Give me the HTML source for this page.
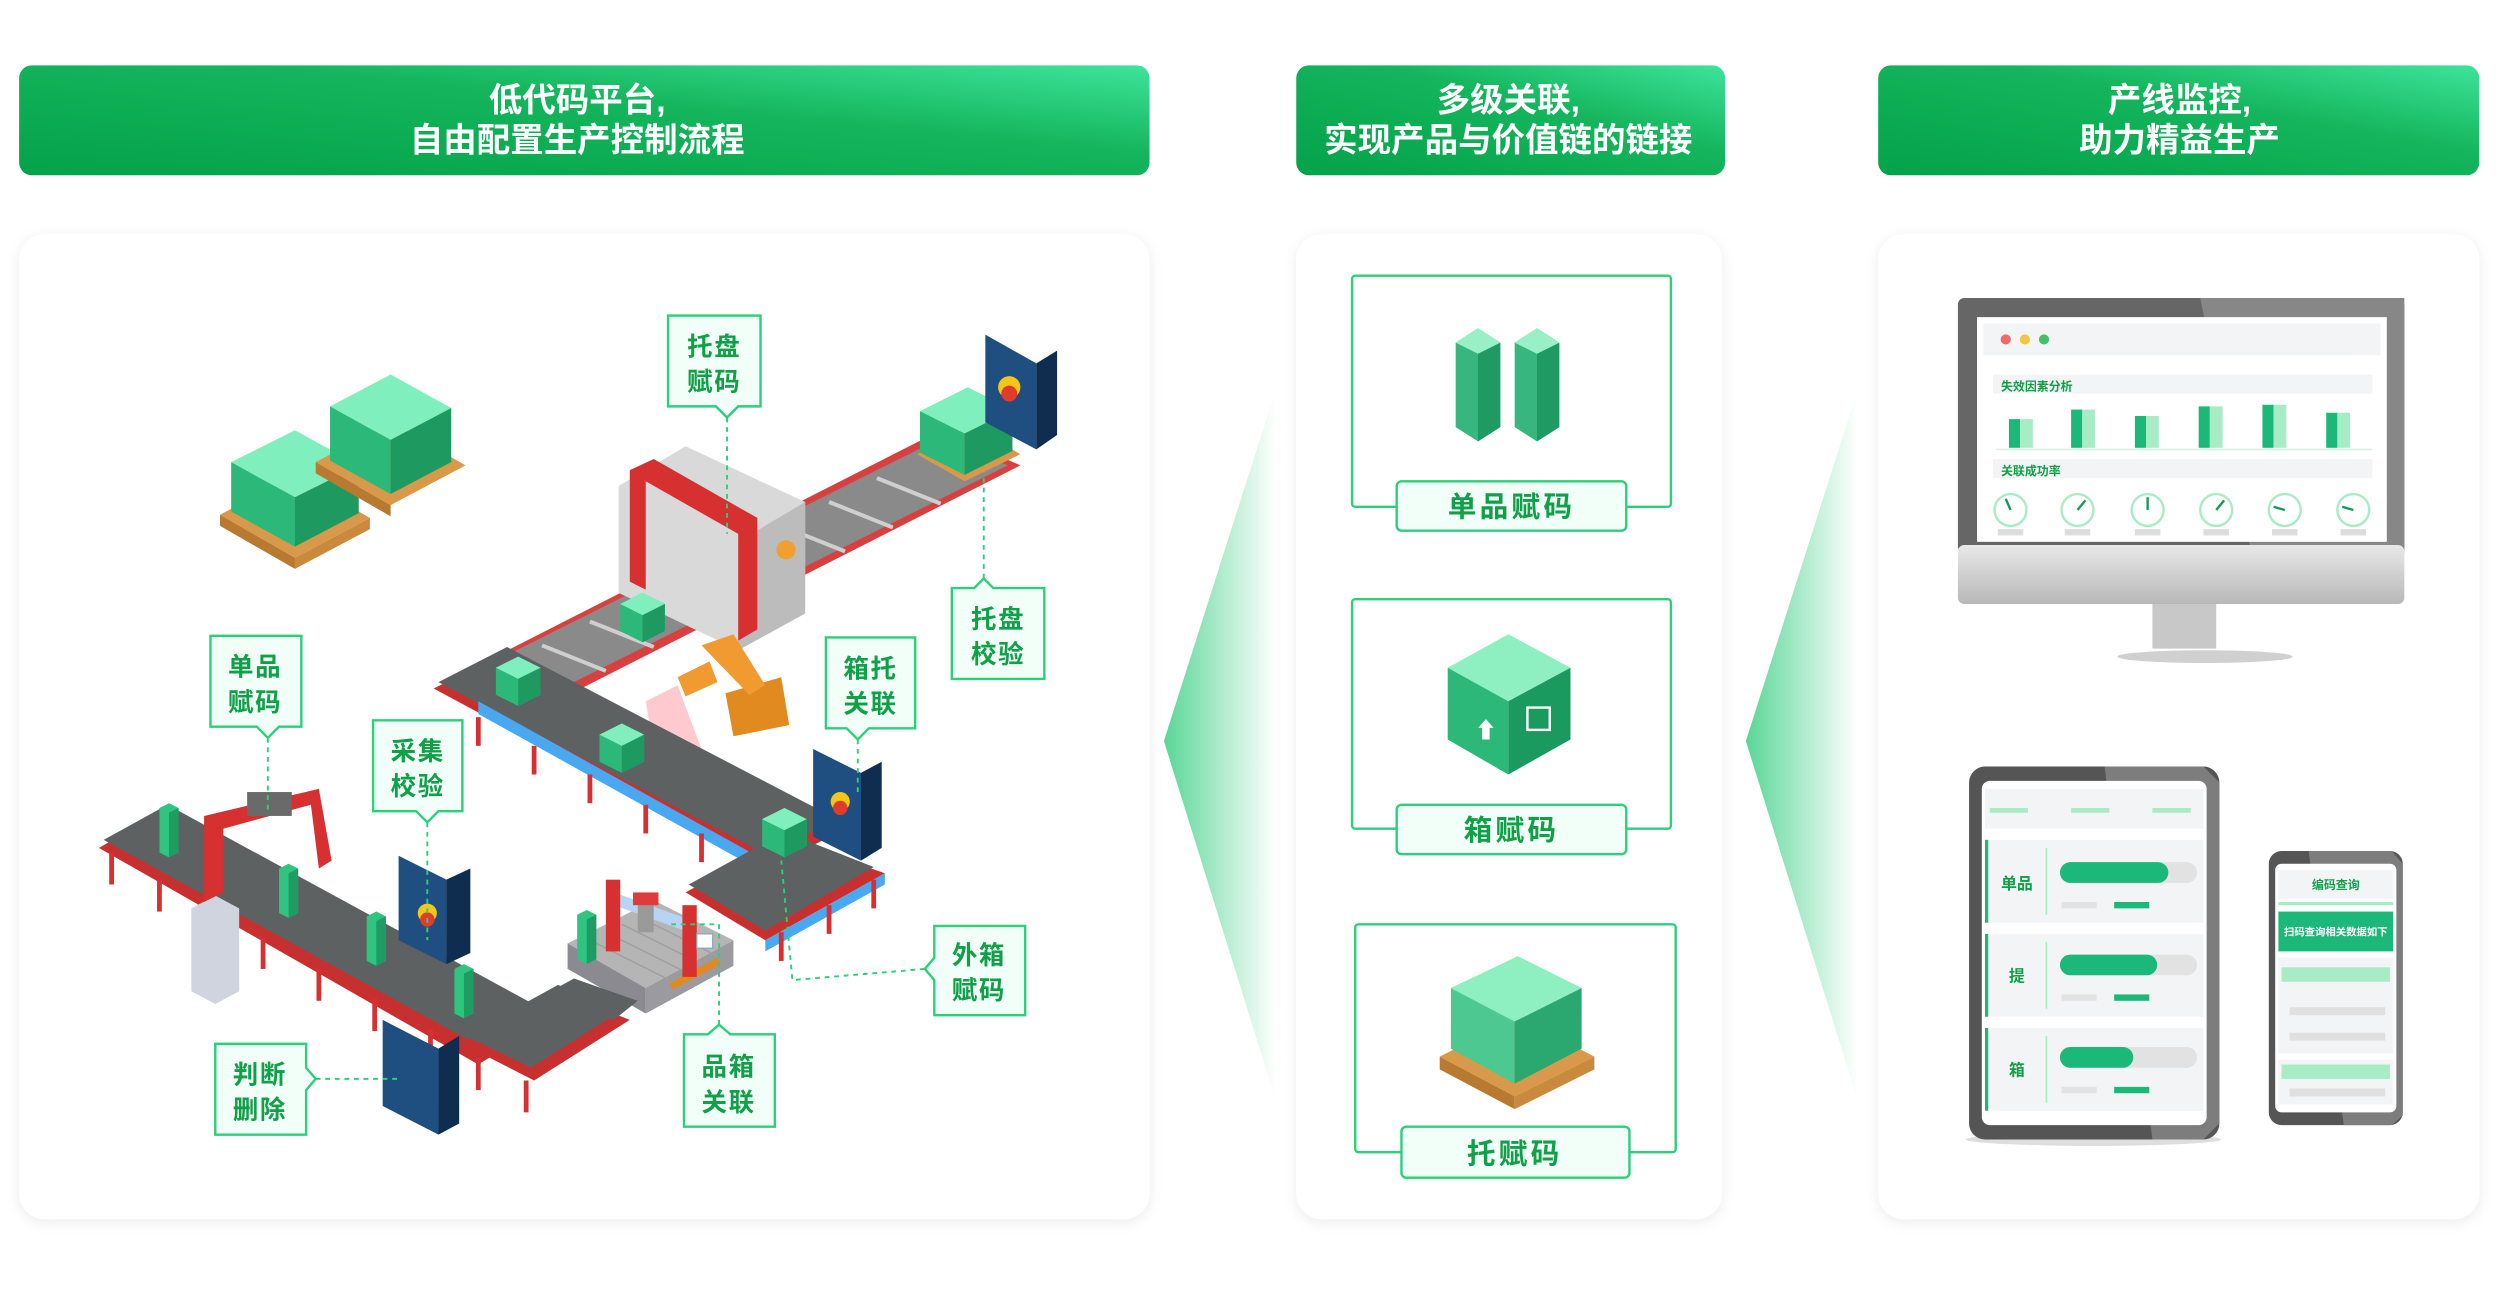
<!DOCTYPE html>
<html><head><meta charset="utf-8"><style>
html,body{margin:0;padding:0;background:#fff;}
svg{display:block;}
text{font-family:"Liberation Sans","Noto Sans CJK SC",sans-serif;font-weight:bold;}
</style></head><body>
<svg width="2500" height="1302" viewBox="0 0 1568 817" preserveAspectRatio="none" xmlns="http://www.w3.org/2000/svg">
<defs>
<linearGradient id="hg" x1="0" y1="1" x2="1" y2="0"><stop offset="0" stop-color="#04a24a"/><stop offset="0.6" stop-color="#14b55c"/><stop offset="1" stop-color="#3de49a"/></linearGradient>
<linearGradient id="fg" x1="0" y1="0" x2="1" y2="0"><stop offset="0" stop-color="#3ccf84" stop-opacity="0.85"/><stop offset="1" stop-color="#3ccf84" stop-opacity="0"/></linearGradient>
<linearGradient id="chin" x1="0" y1="0" x2="0" y2="1"><stop offset="0" stop-color="#e8e8e8"/><stop offset="1" stop-color="#b8b8b8"/></linearGradient>
<filter id="sh" x="-5%" y="-5%" width="110%" height="110%"><feDropShadow dx="0" dy="2" stdDeviation="4" flood-color="#000" flood-opacity="0.08"/></filter>
<g id="cube"><polygon points="0,-8 14,-1 14,16 0,23 -14,16 -14,-1" fill="#2bb878"/><polygon points="0,-8 14,-1 0,6 -14,-1" fill="#7ff0bd"/><polygon points="0,6 14,-1 14,16 0,23" fill="#1e9a60"/></g>
<g id="pill"><polygon points="0,0 6,-3 12,0 12,28 6,31 0,28" fill="#2fc47f"/><polygon points="6,3 12,0 12,28 6,31" fill="#1f9c62"/></g>
</defs>

<rect x="12" y="41" width="709" height="69" rx="8" fill="url(#hg)"/>
<rect x="813" y="41" width="269" height="69" rx="8" fill="url(#hg)"/>
<rect x="1178" y="41" width="377" height="69" rx="8" fill="url(#hg)"/>
<g fill="#fff" font-size="21" text-anchor="middle">
<text x="362" y="70">低代码平台,</text><text x="362" y="95">自由配置生产控制流程</text>
<text x="946" y="70">多级关联,</text><text x="946" y="95">实现产品与价值链的链接</text>
<text x="1367" y="70">产线监控,</text><text x="1367" y="95">助力精益生产</text>
</g>

<polygon points="800,245 730,465 800,690" fill="url(#fg)"/>
<polygon points="1165,245 1095,465 1165,690" fill="url(#fg)"/>

<rect x="12" y="147" width="709" height="618" rx="16" fill="#fff" filter="url(#sh)"/>
<rect x="813" y="147" width="267" height="618" rx="16" fill="#fff" filter="url(#sh)"/>
<rect x="1178" y="147" width="377" height="618" rx="16" fill="#fff" filter="url(#sh)"/>

<!-- pallets top-left -->
<g>
<polygon points="138,323 185,350 232,325 185,298" fill="#d89a4a"/><polygon points="138,323 185,350 185,357 138,330" fill="#b77a30"/><polygon points="185,350 232,325 232,332 185,357" fill="#c98a3e"/>
<polygon points="145,290 185,312 225,292 185,270" fill="#7ff0bd"/><polygon points="145,290 185,312 185,343 145,321" fill="#2bb878"/><polygon points="185,312 225,292 225,322 185,343" fill="#1e9a60"/>
<polygon points="198,290 245,317 292,292 245,265" fill="#d89a4a"/><polygon points="198,290 245,317 245,324 198,297" fill="#b77a30"/>
<polygon points="207,255 245,276 283,256 245,235" fill="#7ff0bd"/><polygon points="207,255 245,276 245,310 207,289" fill="#2bb878"/><polygon points="245,276 283,256 283,290 245,310" fill="#1e9a60"/>
</g>
<!-- rollers top -->
<polygon points="285,425 590,270 640,292 335,447" fill="#d84040"/>
<polygon points="290,425 590,275 632,292 332,442" fill="#8a8a8a"/>
<g stroke="#cfcfcf" stroke-width="2.5">
<line x1="310" y1="420" x2="350" y2="436"/><line x1="340" y1="405" x2="380" y2="421"/><line x1="370" y1="390" x2="410" y2="406"/><line x1="400" y1="375" x2="440" y2="391"/><line x1="430" y1="360" x2="470" y2="376"/><line x1="460" y1="345" x2="500" y2="361"/><line x1="490" y1="330" x2="530" y2="346"/><line x1="520" y1="315" x2="560" y2="331"/><line x1="550" y1="300" x2="590" y2="316"/>
</g>
<polygon points="388,305 430,280 505,315 505,385 463,408 388,372" fill="#d9d9d9"/>
<polygon points="463,340 505,315 505,385 463,408" fill="#bcbcbc"/>
<polygon points="395,295 410,288 475,325 475,395 463,402 463,335 405,302 405,370 395,365" fill="#d63030"/>
<circle cx="493" cy="345" r="6" fill="#f0a030"/>
<polygon points="575,285 605,302 640,285 610,268" fill="#d89a4a"/>
<polygon points="577,258 605,272 635,257 607,243" fill="#7ff0bd"/><polygon points="577,258 605,272 605,298 577,284" fill="#2bb878"/><polygon points="605,272 635,257 635,283 605,298" fill="#1e9a60"/>
<polygon points="618,210 650,228 650,282 618,265" fill="#1f4f80"/><polygon points="650,228 663,220 663,273 650,282" fill="#0f2d4f"/><circle cx="633" cy="243" r="7" fill="#f5c518"/><circle cx="633" cy="247" r="5" fill="#e03b2b"/>
<polygon points="455,435 490,425 495,455 460,462" fill="#e08a20"/><polygon points="440,405 460,398 480,430 470,436" fill="#f09a30"/><polygon points="425,425 445,415 450,428 430,437" fill="#f09a30"/>
<polygon points="405,440 425,430 440,470 410,470" fill="#ff5060" opacity="0.3"/>
<!-- belt E -->
<polygon points="272,432 320,408 530,520 482,545" fill="#c83030"/>
<polygon points="275,428 318,406 525,514 482,537" fill="#5d6161"/>
<polygon points="300,440 480,540 480,548 300,448" fill="#4aa8f0"/>
<!-- station -->
<polygon points="356,592 410,565 460,590 405,620" fill="#b5b5b5"/>
<polygon points="405,620 460,590 460,606 405,636" fill="#9a9aa0"/>
<polygon points="356,592 405,620 405,636 356,608" fill="#8a8a90"/>
<g stroke="#a0a0a0" stroke-width="1"><line x1="370" y1="590" x2="420" y2="615"/><line x1="380" y1="585" x2="430" y2="610"/><line x1="390" y1="580" x2="440" y2="605"/><line x1="400" y1="575" x2="450" y2="600"/></g>
<polygon points="420,617 450,601 452,605 422,621" fill="#e08a20"/>
<polygon points="385,560 435,578 435,586 385,568" fill="#b8d4f4"/>
<rect x="380" y="552" width="9" height="45" fill="#d63030"/><rect x="428" y="568" width="9" height="45" fill="#d63030"/>
<rect x="400" y="565" width="10" height="20" fill="#9a9a9a"/><rect x="397" y="560" width="16" height="8" fill="#e03b3b"/>
<rect x="437" y="586" width="10" height="9" fill="#fff" stroke="#8ab" stroke-width="0.8"/>
<!-- belt right D -->
<polygon points="430,560 492,526 555,548 480,590" fill="#c83030"/>
<polygon points="432,555 492,522 548,544 480,584" fill="#5d6161"/>
<polygon points="480,590 555,548 555,555 480,597" fill="#4aa8f0"/>
<polygon points="510,470 540,485 540,540 510,525" fill="#1f4f80"/><polygon points="540,485 553,478 553,532 540,540" fill="#0f2d4f"/><circle cx="527" cy="503" r="6" fill="#f5c518"/><circle cx="527" cy="507" r="4.5" fill="#e03b2b"/>
<!-- belt A -->
<polygon points="62,532 105,508 345,640 300,668" fill="#c83030"/>
<polygon points="65,527 105,505 340,633 300,656" fill="#5d6161"/>
<!-- belt B -->
<polygon points="290,655 350,622 395,640 335,678" fill="#c83030"/>
<polygon points="292,650 350,618 390,634 333,670" fill="#5d6161"/>
<polygon points="340,625 360,614 400,628 385,640" fill="#5d6161"/>
<g stroke="#d63030" stroke-width="3">
<line x1="70" y1="535" x2="70" y2="555"/><line x1="100" y1="552" x2="100" y2="572"/><line x1="130" y1="568" x2="130" y2="588"/><line x1="165" y1="588" x2="165" y2="608"/><line x1="200" y1="608" x2="200" y2="628"/><line x1="235" y1="627" x2="235" y2="647"/><line x1="270" y1="646" x2="270" y2="666"/><line x1="300" y1="664" x2="300" y2="684"/><line x1="330" y1="678" x2="330" y2="698"/>
<line x1="300" y1="450" x2="300" y2="468"/><line x1="335" y1="468" x2="335" y2="486"/><line x1="370" y1="486" x2="370" y2="504"/><line x1="405" y1="505" x2="405" y2="523"/><line x1="440" y1="523" x2="440" y2="541"/>
<line x1="490" y1="585" x2="490" y2="603"/><line x1="520" y1="568" x2="520" y2="586"/><line x1="548" y1="552" x2="548" y2="570"/>
</g>
<polygon points="120,570 135,562 150,570 150,622 135,630 120,622" fill="#d0d4de"/>
<polygon points="128,512 200,495 208,540 200,545 195,505 140,520 140,560 128,566" fill="#d63030"/>
<rect x="155" y="497" width="28" height="15" fill="#6a6a6a"/>
<use href="#pill" x="100" y="507"/><use href="#pill" x="175" y="545"/><use href="#pill" x="230" y="575"/><use href="#pill" x="285" y="608"/><use href="#pill" x="362" y="574"/>
<use href="#cube" x="403" y="380"/><use href="#cube" x="325" y="420"/><use href="#cube" x="390" y="462"/><use href="#cube" x="492" y="515"/>
<polygon points="250,537 280,552 280,605 250,590" fill="#1f4f80"/><polygon points="280,552 295,545 295,598 280,605" fill="#0f2d4f"/><circle cx="268" cy="573" r="6" fill="#f5c518"/><circle cx="268" cy="577" r="4.5" fill="#e03b2b"/>
<polygon points="240,640 275,658 275,712 240,694" fill="#1f4f80"/><polygon points="275,658 288,650 288,705 275,712" fill="#0f2d4f"/>

<g stroke="#2ad07a" stroke-width="1.2" stroke-dasharray="3,3" fill="none">
<line x1="456" y1="262" x2="456" y2="335"/>
<line x1="617" y1="363" x2="617" y2="300"/>
<line x1="538" y1="464" x2="538" y2="500"/>
<line x1="168" y1="463" x2="168" y2="510"/>
<line x1="268" y1="516" x2="268" y2="590"/>
<polyline points="580,608 497,615 490,540"/>
<line x1="198" y1="677" x2="252" y2="677"/>
<polyline points="451,643 451,580 420,580"/>
</g>
<g fill="#f2fff8" stroke="#2ad07a" stroke-width="1.5">
<path d="M419,198 h58 v57 h-14 l-7,7 l-7,-7 h-30 z"/>
<path d="M597,369 h14 l6,-6 l6,6 h32 v57 h-58 z"/>
<path d="M518,400 h56 v57 h-29 l-7,7 l-7,-7 h-13 z"/>
<path d="M132,399 h57 v57 h-14 l-7,7 l-7,-7 h-29 z"/>
<path d="M234,452 h56 v57 h-15 l-7,7 l-7,-7 h-27 z"/>
<path d="M586,581 h57 v56 h-57 v-22 l-6,-7 l6,-7 z"/>
<path d="M135,655 h57 v15 l6,7 l-6,7 v28 h-57 z"/>
<path d="M429,649 h15 l7,-6 l7,6 h28 v58 h-57 z"/>
</g>
<g fill="#10a048" font-size="16" text-anchor="middle" letter-spacing="1">
<text x="448" y="223">托盘</text><text x="448" y="245">赋码</text>
<text x="626" y="394">托盘</text><text x="626" y="416">校验</text>
<text x="546" y="425">箱托</text><text x="546" y="447">关联</text>
<text x="160" y="424">单品</text><text x="160" y="446">赋码</text>
<text x="262" y="477">采集</text><text x="262" y="499">校验</text>
<text x="614" y="605">外箱</text><text x="614" y="627">赋码</text>
<text x="163" y="680">判断</text><text x="163" y="702">删除</text>
<text x="457" y="675">品箱</text><text x="457" y="697">关联</text>
</g>

<!-- panel 2 -->
<g fill="none" stroke="#2ad07a" stroke-width="1.5">
<rect x="848" y="173" width="200" height="145" rx="2"/>
<rect x="848" y="376" width="200" height="144" rx="2"/>
<rect x="850" y="580" width="201" height="143" rx="2"/>
</g>
<g fill="#f2fff8" stroke="#2ad07a" stroke-width="1.5">
<rect x="876" y="302" width="144" height="31" rx="3"/>
<rect x="876" y="505" width="144" height="31" rx="3"/>
<rect x="879" y="707" width="143" height="32" rx="3"/>
</g>
<g fill="#10a048" font-size="18" text-anchor="middle" letter-spacing="2">
<text x="948" y="324">单品赋码</text><text x="948" y="527">箱赋码</text><text x="950" y="730">托赋码</text>
</g>
<g>
<polygon points="913,215 927,206 941,215 941,268 927,277 913,268" fill="#38b67f"/><polygon points="927,222 941,215 941,268 927,277" fill="#1f9a62"/><polygon points="913,215 927,206 941,215 927,222" fill="#9af0c6"/>
<polygon points="950,215 964,206 978,215 978,268 964,277 950,268" fill="#38b67f"/><polygon points="964,222 978,215 978,268 964,277" fill="#1f9a62"/><polygon points="950,215 964,206 978,215 964,222" fill="#9af0c6"/>
</g>
<polygon points="946,398 985,419 946,440 908,419" fill="#8ef0c0"/>
<polygon points="908,419 946,440 946,486 908,464" fill="#2bb878"/>
<polygon points="946,440 985,419 985,464 946,486" fill="#1b9a5f"/>
<text x="925" y="463" fill="#fff" font-size="14">⬆</text>
<rect x="958" y="444" width="14" height="14" fill="none" stroke="#fff" stroke-width="1.5"/>
<polygon points="903,663 950,688 1000,663 952,638" fill="#d89a4a"/><polygon points="903,663 950,688 950,696 903,671" fill="#b77a30"/><polygon points="950,688 1000,663 1000,671 950,696" fill="#c98a3e"/>
<polygon points="910,620 950,641 992,620 952,600" fill="#8ef0c0"/><polygon points="910,620 950,641 950,680 910,658" fill="#4cc890"/><polygon points="950,641 992,620 992,658 950,680" fill="#2aa870"/>

<!-- panel 3 -->
<rect x="1228" y="187" width="280" height="160" rx="4" fill="#666"/>
<polygon points="1380,187 1508,187 1508,347 1412,347" fill="#878787"/>
<rect x="1228" y="342" width="280" height="37" rx="4" fill="url(#chin)"/>
<rect x="1350" y="379" width="40" height="28" fill="#c8c8c8"/>
<ellipse cx="1383" cy="412" rx="55" ry="4" fill="#d0d0d0"/>
<rect x="1240" y="199" width="257" height="141" fill="#fff"/>
<rect x="1244" y="203" width="249" height="20" fill="#f3f4f6"/>
<circle cx="1258" cy="213" r="3.2" fill="#f06a6a"/><circle cx="1270" cy="213" r="3.2" fill="#f5c542"/><circle cx="1282" cy="213" r="3.2" fill="#44c06a"/>
<rect x="1250" y="235" width="238" height="12" fill="#f3f4f6"/>
<text x="1255" y="245" font-size="7.5" fill="#10a048">失效因素分析</text>
<g>
<rect x="1260" y="263" width="7" height="18" fill="#1cb87a"/><rect x="1267" y="263" width="8" height="18" fill="#a8ecc6"/>
<rect x="1299" y="257" width="7" height="24" fill="#1cb87a"/><rect x="1306" y="257" width="8" height="24" fill="#a8ecc6"/>
<rect x="1339" y="261" width="7" height="20" fill="#1cb87a"/><rect x="1346" y="261" width="8" height="20" fill="#a8ecc6"/>
<rect x="1379" y="255" width="7" height="26" fill="#1cb87a"/><rect x="1386" y="255" width="8" height="26" fill="#a8ecc6"/>
<rect x="1419" y="254" width="7" height="27" fill="#1cb87a"/><rect x="1426" y="254" width="8" height="27" fill="#a8ecc6"/>
<rect x="1459" y="259" width="7" height="22" fill="#1cb87a"/><rect x="1466" y="259" width="8" height="22" fill="#a8ecc6"/>
<line x1="1252" y1="282" x2="1488" y2="282" stroke="#d8efe2"/>
</g>
<rect x="1250" y="288" width="238" height="12" fill="#f3f4f6"/>
<text x="1255" y="298" font-size="7.5" fill="#10a048">关联成功率</text>
<g fill="none" stroke="#a8ecc6" stroke-width="1.5">
<circle cx="1261" cy="320" r="10"/><circle cx="1303" cy="320" r="10"/><circle cx="1347" cy="320" r="10"/><circle cx="1390" cy="320" r="10"/><circle cx="1433" cy="320" r="10"/><circle cx="1476" cy="320" r="10"/>
</g>
<g stroke="#1a9a5a" stroke-width="1.5">
<line x1="1261" y1="320" x2="1258" y2="313"/><line x1="1303" y1="320" x2="1308" y2="314"/><line x1="1347" y1="320" x2="1347" y2="312"/><line x1="1390" y1="320" x2="1395" y2="314"/><line x1="1433" y1="320" x2="1426" y2="318"/><line x1="1476" y1="320" x2="1469" y2="318"/>
</g>
<g fill="#ddd"><rect x="1253" y="332" width="16" height="4"/><rect x="1295" y="332" width="16" height="4"/><rect x="1339" y="332" width="16" height="4"/><rect x="1382" y="332" width="16" height="4"/><rect x="1425" y="332" width="16" height="4"/><rect x="1468" y="332" width="16" height="4"/></g>

<ellipse cx="1313" cy="715" rx="80" ry="4" fill="#ddd"/>
<rect x="1235" y="481" width="157" height="234" rx="10" fill="#555"/>
<polygon points="1265,481 1382,481 1392,491 1392,705 1382,715 1350,715 1320,481" fill="#7d7d7d"/>
<rect x="1243" y="490" width="141" height="216" rx="5" fill="#fff"/>
<rect x="1245" y="495" width="137" height="25" fill="#f3f4f6"/>
<g fill="#a8ecc6"><rect x="1248" y="507" width="24" height="3"/><rect x="1299" y="507" width="24" height="3"/><rect x="1350" y="507" width="24" height="3"/></g>
<g fill="#f3f4f6"><rect x="1245" y="527" width="137" height="52"/><rect x="1245" y="586" width="137" height="52"/><rect x="1245" y="645" width="137" height="52"/></g>
<g fill="#1cb87a"><rect x="1245" y="527" width="2" height="52"/><rect x="1245" y="586" width="2" height="52"/><rect x="1245" y="645" width="2" height="52"/></g>
<g fill="#a8ecc6"><rect x="1283" y="532" width="1" height="42"/><rect x="1283" y="591" width="1" height="42"/><rect x="1283" y="650" width="1" height="42"/></g>
<g fill="#e2e2e2"><rect x="1292" y="541" width="86" height="13" rx="6.5"/><rect x="1292" y="599" width="86" height="13" rx="6.5"/><rect x="1292" y="657" width="86" height="13" rx="6.5"/>
<rect x="1293" y="566" width="22" height="4"/><rect x="1293" y="624" width="22" height="4"/><rect x="1293" y="682" width="22" height="4"/></g>
<g fill="#1cb87a"><rect x="1292" y="541" width="68" height="13" rx="6.5"/><rect x="1292" y="599" width="61" height="13" rx="6.5"/><rect x="1292" y="657" width="46" height="13" rx="6.5"/>
<rect x="1326" y="566" width="22" height="4"/><rect x="1326" y="624" width="22" height="4"/><rect x="1326" y="682" width="22" height="4"/></g>
<g fill="#10a048" font-size="10" text-anchor="middle"><text x="1265" y="558">单品</text><text x="1265" y="616">提</text><text x="1265" y="675">箱</text></g>

<rect x="1423" y="534" width="84" height="172" rx="8" fill="#555"/>
<polygon points="1440,534 1500,534 1507,542 1507,700 1500,706 1470,706 1448,534" fill="#7d7d7d"/>
<rect x="1427" y="542" width="76" height="156" rx="4" fill="#fff"/>
<rect x="1429" y="546" width="72" height="18" fill="#f3f4f6"/>
<text x="1465" y="558" font-size="7.5" fill="#10a048" text-anchor="middle">编码查询</text>
<rect x="1429" y="566" width="72" height="2" fill="#a8ecc6"/>
<rect x="1429" y="572" width="72" height="25" fill="#1cb87a"/>
<text x="1465" y="587" font-size="6.5" fill="#fff" text-anchor="middle">扫码查询相关数据如下</text>
<rect x="1429" y="601" width="72" height="60" fill="#f3f4f6"/>
<rect x="1431" y="607" width="68" height="9" fill="#a8ecc6"/>
<rect x="1436" y="632" width="60" height="5" fill="#e0e0e0"/><rect x="1436" y="648" width="60" height="5" fill="#e0e0e0"/>
<rect x="1429" y="665" width="72" height="28" fill="#f3f4f6"/>
<rect x="1431" y="668" width="68" height="9" fill="#a8ecc6"/>
<rect x="1436" y="683" width="60" height="5" fill="#e0e0e0"/>
</svg>
</body></html>
